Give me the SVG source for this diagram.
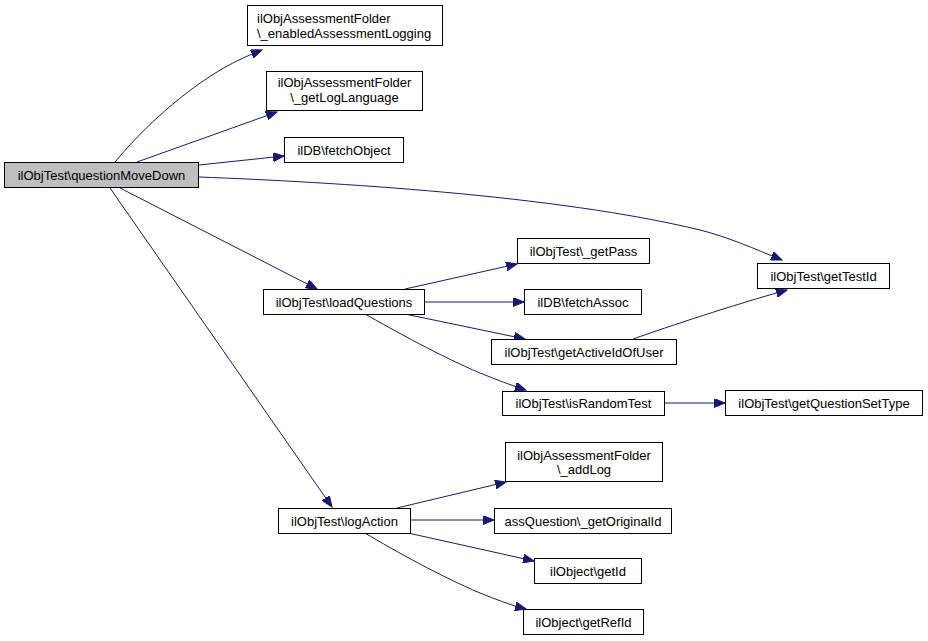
<svg xmlns="http://www.w3.org/2000/svg" width="928" height="641" viewBox="0 0 928 641">
<style>
rect.n{fill:#ffffff;stroke:#000000;stroke-width:1}
rect.root{fill:#bfbfbf;stroke:#000000;stroke-width:1}
text{font-family:"Liberation Sans",Arial,sans-serif;font-size:13px;fill:#000000;text-anchor:middle}
text.l{text-anchor:start}
.e path{fill:none;stroke:#191970;stroke-width:1;marker-end:url(#a)}
</style>
<defs>
<marker id="a" markerWidth="12" markerHeight="9" refX="11" refY="4.5" orient="auto" markerUnits="userSpaceOnUse">
<path d="M0,0 L11,4.5 L0,9 z" fill="#191970" stroke="#191970" stroke-width="1"/>
</marker>
</defs>
<rect width="928" height="641" fill="#ffffff"/>
<g class="e" id="edges">
<path d="M115,162 C137,135 176,97 217,72 C230,64 244,57 262,50"/>
<path d="M137,162 L277,112"/>
<path d="M199,165 L284,156"/>
<path d="M199,177 C330,182 556,195 700,230 C728,237 755,249 782,260"/>
<path d="M120,188 L317,289"/>
<path d="M110,188 L332,507"/>
<path d="M405,289 L517,264"/>
<path d="M425,302 L524,302"/>
<path d="M405,314 L525,339"/>
<path d="M365,314 C395,331 440,356 480,373 C495,379 510,385 526,390"/>
<path d="M633,339 C670,326 730,306 787,290"/>
<path d="M665,403 L725,403"/>
<path d="M397,508 L506,482"/>
<path d="M411,520 L494,520"/>
<path d="M408,533 L534,561"/>
<path d="M365,533 C395,551 440,576 480,593 C495,599 510,605 526,609"/>
</g>
<g id="n_qmd"><rect class="root" x="4.5" y="162.5" width="194" height="25"/><text x="101.5" y="179.5">ilObjTest\questionMoveDown</text></g>
<g id="n_enabled"><rect class="n" x="247.5" y="5.5" width="195" height="40"/><text class="l" x="257" y="23">ilObjAssessmentFolder</text><text class="l" x="257" y="37.5">\_enabledAssessmentLogging</text></g>
<g id="n_loglang"><rect class="n" x="266.5" y="71.5" width="156" height="39"/><text x="344.5" y="87">ilObjAssessmentFolder</text><text x="344.5" y="101.5">\_getLogLanguage</text></g>
<g id="n_fetchobj"><rect class="n" x="284.5" y="137.5" width="119" height="25"/><text x="344" y="154.5">ilDB\fetchObject</text></g>
<g id="n_loadq"><rect class="n" x="263.5" y="289.5" width="161" height="25"/><text x="344" y="306.5">ilObjTest\loadQuestions</text></g>
<g id="n_getpass"><rect class="n" x="517.5" y="238.5" width="132" height="25"/><text x="583.5" y="255.5">ilObjTest\_getPass</text></g>
<g id="n_fetchassoc"><rect class="n" x="524.5" y="289.5" width="117" height="25"/><text x="583" y="306.5">ilDB\fetchAssoc</text></g>
<g id="n_activeid"><rect class="n" x="491.5" y="339.5" width="185" height="25"/><text x="584" y="356.5">ilObjTest\getActiveIdOfUser</text></g>
<g id="n_israndom"><rect class="n" x="502.5" y="391.5" width="162" height="24"/><text x="583.5" y="408">ilObjTest\isRandomTest</text></g>
<g id="n_testid"><rect class="n" x="757.5" y="263.5" width="132" height="25"/><text x="823.5" y="280.5">ilObjTest\getTestId</text></g>
<g id="n_qsettype"><rect class="n" x="725.5" y="390.5" width="197" height="25"/><text x="824" y="407.5">ilObjTest\getQuestionSetType</text></g>
<g id="n_logaction"><rect class="n" x="278.5" y="508.5" width="132" height="25"/><text x="344.5" y="525.5">ilObjTest\logAction</text></g>
<g id="n_addlog"><rect class="n" x="505.5" y="442.5" width="157" height="39"/><text x="584" y="460">ilObjAssessmentFolder</text><text x="584" y="474">\_addLog</text></g>
<g id="n_origid"><rect class="n" x="494.5" y="508.5" width="177" height="25"/><text x="583" y="525.5">assQuestion\_getOriginalId</text></g>
<g id="n_getid"><rect class="n" x="534.5" y="558.5" width="107" height="25"/><text x="588" y="575.5">ilObject\getId</text></g>
<g id="n_getrefid"><rect class="n" x="523.5" y="609.5" width="120" height="25"/><text x="583.5" y="626.5">ilObject\getRefId</text></g>
</svg>
